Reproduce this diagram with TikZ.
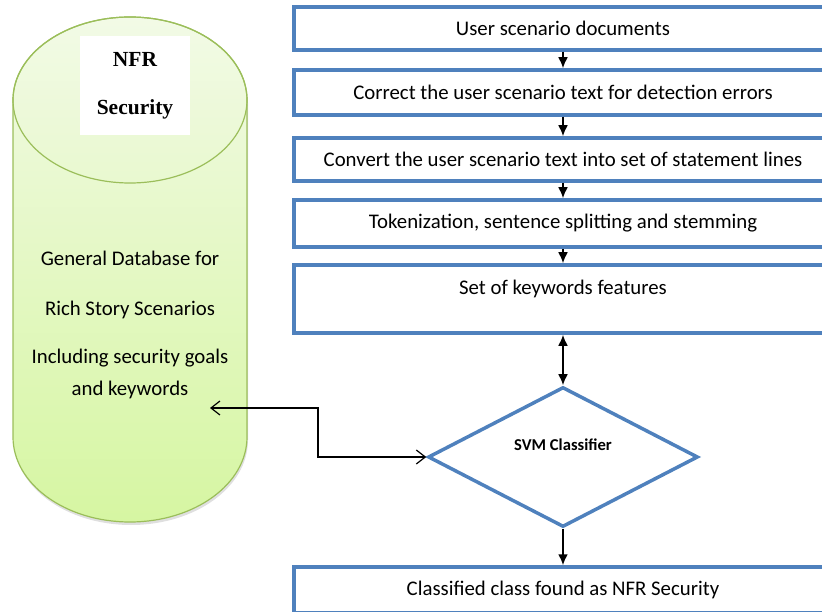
\documentclass[tikz,border=0pt]{standalone}
\usepackage{fontspec}
\setmainfont{Carlito}
\newfontfamily\nfrfont{Liberation Serif}
\usepackage{tikz}
\usetikzlibrary{shapes.geometric,arrows.meta,shadows}

\definecolor{boxblue}{RGB}{79,129,189}
\definecolor{cyltop}{RGB}{242,250,230}
\definecolor{cylbot}{RGB}{214,246,162}
\definecolor{cyledge}{RGB}{155,190,90}

\tikzset{
  stepbox/.style={draw=boxblue, line width=3.5pt, minimum width=538pt, inner sep=0pt,
    font=\fontsize{20.8}{24}\selectfont},
  flow/.style={line width=2pt},
  dblink/.style={line width=1.2pt,
    {Straight Barb[length=9pt,width=14pt]}-{Straight Barb[length=9pt,width=14pt]}},
  dbtext/.style={font=\fontsize{20.8}{32}\selectfont, align=center},
}

\begin{document}
\begin{tikzpicture}[x=1pt,y=-1pt,>={Latex[length=11pt,width=10pt]}]
\useasboundingbox (0,0) rectangle (822,612);

% database cylinder
\path [draw=cyledge, line width=1.2pt, top color=cyltop, bottom color=cylbot,
  drop shadow={shadow xshift=1pt, shadow yshift=-3pt, opacity=.25}]
  (13,100) -- (13,437) arc[start angle=180, end angle=0, x radius=117, y radius=85]
  -- (247,100) arc[start angle=0, end angle=-180, x radius=117, y radius=83] -- cycle;
\draw [cyledge, line width=1.2pt] (130,100) ellipse[x radius=117, y radius=83];
\node [fill=white, minimum width=110pt, minimum height=99pt, inner sep=0pt, align=center,
  font=\nfrfont\bfseries\fontsize{21.5}{48}\selectfont] (nfr) at (135,86) {NFR\\Security};
\node [dbtext] (gen) at (130,258) {General Database for};
\node [dbtext] (rich) at (130,310) {Rich Story Scenarios};
\node [dbtext] (incl) at (130,374) {Including security goals\\and keywords};

% process steps
\node [stepbox, minimum height=43pt] (docs) at (563,28.5) {User scenario documents};
\node [stepbox, minimum height=45pt] (correct) at (563,92.5) {Correct the user scenario text for detection errors};
\node [stepbox, minimum height=43pt] (convert) at (563,159.5) {Convert the user scenario text into set of statement lines};
\node [stepbox, minimum height=47pt] (token) at (563,223.5) {Tokenization, sentence splitting and stemming};
\node [stepbox, minimum height=68pt,
  label={[anchor=north, yshift=-13pt, font=\fontsize{20.8}{24}\selectfont]north:Set of keywords features}]
  (keywords) at (563,299) {};
\node [diamond, draw=boxblue, line width=3.5pt, minimum width=270pt, minimum height=140pt, inner sep=0pt,
  label={[yshift=12pt, font=\bfseries\fontsize{16.6}{20}\selectfont]center:SVM Classifier}]
  (svm) at (563,457) {};
\node [stepbox, minimum height=46pt] (classified) at (563,590) {Classified class found as NFR Security};

% arrows
\draw [flow, ->] (docs) -- (correct);
\draw [flow, ->] (correct) -- (convert);
\draw [flow, ->] (convert) -- (token);
\draw [flow, ->] (token) -- (keywords);
\draw [flow, <->] (keywords) -- (svm);
\draw [flow, ->] (svm) -- (classified);

% link to database
\coordinate (dbend) at (210,408);
\coordinate (elbow) at (318,408);
\draw [dblink] (dbend) -- (elbow) |- (svm.west);
\end{tikzpicture}
\end{document}
